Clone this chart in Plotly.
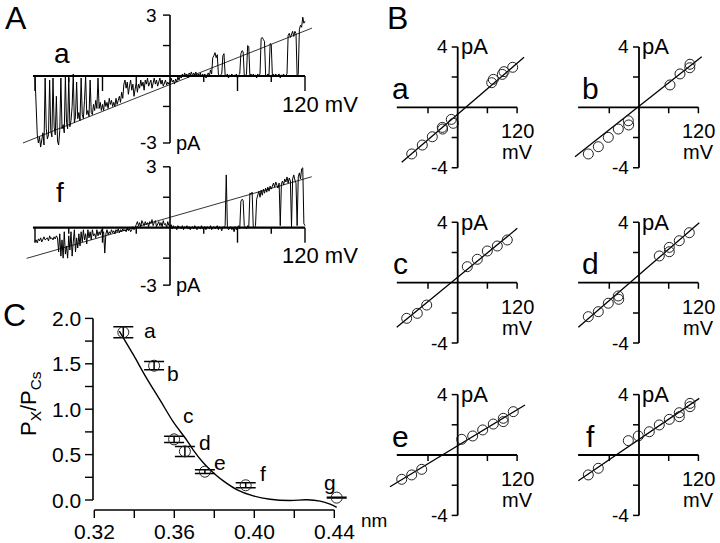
import plotly.graph_objects as go

W, H = 720, 543
FONT = "Liberation Sans, Arial, sans-serif"

# ---------------- data ----------------
ramp_mV = list(range(-120, 121, 1))
trace_a_pA = [
    0.0, -1.5, -2.9, -3.3, -3.0, -3.5, -3.2, -2.8, -3.4, -0.1,
    -2.6, -3.1, -2.9, -0.2, -2.7, -3.0, -0.1, -2.5, -2.9, -1.0,
    -3.2, -3.4, -2.7, -0.1, -2.6, -2.4, -2.8, 0.0, -2.3, -2.6,
    -0.1, -2.5, -2.2, -1.5, 0.1, -2.3, -2.0, -0.3, -2.1, -1.8,
    -2.2, -0.1, -1.9, -2.1, -1.2, 0.0, -1.9, -1.7, -2.0, -0.2,
    -1.8, -1.9, -1.4, -1.7, -1.2, -1.6, -0.1, -1.6, -1.3, -1.7,
    -1.4, -1.7, -1.2, -1.5, -1.3, -1.6, -1.1, -1.4, -1.2, -1.5,
    -1.3, -1.5, -1.1, -1.4, -1.2, -1.0, -1.3, -0.8, -1.1, -0.4,
    -0.2, -0.6, -0.3, -0.9, -0.5, -0.2, -0.7, -0.4, -1.0, -0.5,
    -0.3, -0.8, -0.4, -0.6, -0.2, -0.5, -0.3, -0.7, -0.2, -0.4,
    -0.1, -0.5, -0.3, -0.2, -0.6, -0.3, -0.1, -0.4, -0.2, -0.5,
    -0.3, -0.1, -0.4, -0.2, -0.5, -0.3, -0.2, -0.45, -0.3, -0.4,
    -0.35, -0.1, -0.3, -0.2, -0.4, -0.15, -0.3, -0.05, -0.2, 0.0,
    -0.1, 0.1, -0.05, 0.15, 0.0, 0.1, -0.1, 0.15, 0.05, 0.2,
    0.0, 0.15, 0.05, 0.2, -0.05, 0.1, 0.0, 0.15, -0.05, 0.1,
    0.0, 0.1, -0.1, 0.05, 0.15, 0.0, 0.3, 0.1, 0.9, 1.0,
    1.15, 0.9, 1.05, 0.1, 0.0, 0.05, 0.1, 1.0, 1.1, 0.05,
    0.0, 0.1, -0.1, 0.05, 0.0, 0.1, -0.05, 0.05, 0.0, 0.1,
    -0.1, 0.05, 0.1, 1.1, 1.25, 1.2, 0.05, 0.0, 0.1, 1.5,
    1.45, 0.0, 0.1, -0.05, 0.1, 0.0, 0.05, -0.1, 0.1, 0.0,
    0.1, 1.85, 1.9, 1.8, 1.7, 0.05, 0.0, 0.1, 0.05, 1.6,
    1.55, 0.0, 0.1, -0.05, 0.1, 0.0, 0.05, 0.1, -0.1, 0.05,
    0.0, 0.1, -0.05, 0.05, 0.1, 2.0, 2.1, 1.9, 2.05, 2.2,
    1.95, 2.2, 2.1, 0.0, 0.1, 2.3, 2.5, 2.4, 2.9, 2.6,
    2.7,
]
trace_f_pA = [
    -0.7, -0.6, -0.75, -0.55, -0.65, -0.5, -0.7, -0.6, -0.45, -0.6,
    -0.55, -0.5, -0.65, -0.4, -0.55, -0.5, -0.6, -0.45, -0.55, -0.4,
    -0.5, -1.2, -0.3, -1.4, -0.6, -1.5, -0.2, -1.3, -0.9, -1.5,
    -0.4, -1.1, -0.2, -1.4, -0.7, -0.1, -1.2, -0.5, -1.0, -0.3,
    -0.9, -0.2, -0.7, -0.1, -0.6, -0.3, -0.8, -0.1, -0.5, -0.2,
    -0.6, -0.1, -0.4, -0.3, -0.5, -0.1, -0.4, -0.2, -0.35, -0.1,
    -0.3, -0.2, -1.25, -0.3, -0.1, -0.35, -0.2, -0.3, -0.1, -0.25,
    -0.15, -0.3, -0.1, -0.2, -0.05, -0.25, -0.1, -0.2, -0.05, -0.15,
    -0.1, -0.2, 0.0, -0.15, -0.05, -0.2, -0.1, 0.05, -0.1, 0.0,
    0.15, 0.3, 0.1, 0.25, 0.05, 0.35, 0.2, 0.1, 0.3, 0.15,
    0.25, 0.05, 0.3, 0.2, 0.4, 0.1, 0.25, 0.35, 0.05, 0.2,
    0.3, 0.1, 0.25, 0.05, 0.35, 0.15, 0.2, 0.0, 0.3, 0.1,
    0.05, 0.15, -0.05, 0.1, 0.0, 0.05, -0.1, 0.1, 0.0, 0.05,
    -0.05, 0.1, -0.1, 0.05, 0.0, 0.1, -0.05, 0.05, -0.1, 0.0,
    0.05, -0.05, 0.1, 0.0, -0.1, 0.05, 0.0, -0.05, 0.1, -0.05,
    0.0, 0.05, -0.1, 0.05, 0.0, -0.05, 0.1, -0.1, 0.0, 0.05,
    -0.05, 0.0, 0.1, -0.1, 0.05, 0.0, -0.15, 0.05, 0.0, 0.1,
    2.6, 0.05, -0.1, 0.0, 0.05, -0.1, 0.0, -0.2, 0.05, -0.1,
    0.0, 0.1, -0.05, 1.3, 1.4, 1.35, 0.1, 0.0, -0.05, 0.1,
    0.0, 1.7, 1.65, 1.75, 0.05, 0.0, 0.1, 1.4, 1.6, 1.8,
    1.5, 1.85, 1.6, 1.9, 1.7, 1.95, 1.75, 2.0, 1.8, 2.05,
    1.9, 2.1, 2.2, 2.0, 2.25, 2.1, 1.95, 2.2, 0.1, 2.15,
    2.3, 2.1, 2.4, 2.25, 2.5, 2.2, 2.45, 2.3, 0.05, 2.4,
    2.6, 2.35, 2.2, 0.1, 2.5, 2.7, 2.4, 2.9, 2.95, 0.2,
    0.1,
]
fit_a_mV = [-130.7, 126.2]
fit_a_pA = [-3.3, 2.36]
fit_f_mV = [-127.4, 126.0]
fit_f_pA = [-1.51, 2.51]

iv_names = ["a", "b", "c", "d", "e", "f"]
iv_mV = {
    "a": [-92.9, -71.5, -51.3, -31.1, -30.5, -12.9, -8.9, 68.7, 71.9, 90.1, 93.5, 111.1],
    "b": [-102.4, -82.2, -62.0, -41.8, -21.6, -20.9, 62.6, 82.8, 103.0, 102.6],
    "c": [-103.0, -81.6, -62.6, 19.4, 39.6, 59.8, 80.0, 100.2],
    "d": [-102.4, -82.2, -62.0, -41.8, -41.0, 41.0, 61.2, 61.2, 81.4, 101.6],
    "e": [-113.1, -92.9, -72.7, 8.1, 30.3, 50.5, 71.9, 92.1, 92.1, 112.3],
    "f": [-102.4, -82.2, -21.6, -1.4, 20.8, 41.0, 61.2, 81.4, 81.4, 103.0, 103.0],
}
iv_pA = {
    "a": [-3.09, -2.50, -1.95, -1.33, -1.44, -0.80, -1.06, 1.63, 1.85, 2.18, 2.36, 2.65],
    "b": [-3.09, -2.61, -1.99, -1.44, -0.89, -1.17, 1.48, 2.21, 2.85, 2.62],
    "c": [-2.36, -2.03, -1.48, 1.06, 1.55, 2.10, 2.43, 2.83],
    "d": [-2.25, -1.92, -1.36, -0.88, -1.10, 1.77, 2.34, 2.05, 2.78, 3.31],
    "e": [-1.61, -1.32, -0.95, 1.04, 1.26, 1.66, 2.05, 2.43, 2.21, 2.87],
    "f": [-1.32, -0.88, 0.95, 1.26, 1.54, 1.99, 2.36, 2.80, 2.54, 3.42, 3.20],
}
iv_fit_mV = {
    "a": [-113.1, 134.0], "b": [-129.3, 126.7], "c": [-123.2, 120.4],
    "d": [-122.6, 121.8], "e": [-136.8, 136.0], "f": [-122.6, 121.8],
}
iv_fit_pA = {
    "a": [-3.64, 3.31], "b": [-3.27, 3.35], "c": [-2.95, 3.60],
    "d": [-2.95, 3.97], "e": [-2.10, 3.31], "f": [-1.70, 3.75],
}

C_labels = ["a", "b", "c", "d", "e", "f", "g"]
C_nm = [0.3345, 0.3499, 0.3599, 0.3653, 0.3753, 0.3957, 0.4412]
C_ratio = [1.847, 1.479, 0.668, 0.535, 0.312, 0.162, 0.026]
C_err = [0.06, 0.045, 0.035, 0.055, 0.02, 0.028, 0.005]
C_curve_nm = [0.3325, 0.3395, 0.3462, 0.3529, 0.3595, 0.3662, 0.3695, 0.3745, 0.3795,
              0.3845, 0.3912, 0.3995, 0.4079, 0.4179, 0.4262, 0.4329, 0.4379, 0.4412]
C_curve_ratio = [1.86, 1.60, 1.34, 1.10, 0.86, 0.66, 0.55, 0.41, 0.30,
                 0.21, 0.115, 0.045, 0.008, -0.006, 0.002, -0.012, -0.045, -0.08]

# ---------------- figure ----------------
fig = go.Figure()


def panel(n, x0, sx, y0, sy, box):
    L, T, R, B = box
    s = "" if n == 1 else str(n)
    fig.update_layout({
        f"xaxis{s}": dict(domain=[L / W, R / W], range=[(L - x0) / sx, (R - x0) / sx],
                          visible=False, anchor=f"y{s}", fixedrange=True),
        f"yaxis{s}": dict(domain=[1 - B / H, 1 - T / H], range=[(y0 - B) / sy, (y0 - T) / sy],
                          visible=False, anchor=f"x{s}", fixedrange=True),
    })
    return dict(xr=f"x{s}", yr=f"y{s}", sx=sx, sy=sy)


def seg(p, xa, ya, xb, yb, w=1.5):
    fig.add_shape(type="line", xref=p["xr"], yref=p["yr"], x0=xa, y0=ya, x1=xb, y1=yb,
                  line=dict(color="black", width=w), layer="above")


def label(p, text, x, y, size, xanchor="center", yanchor="middle", xshift=0, yshift=0):
    fig.add_annotation(text=text, xref=p["xr"], yref=p["yr"], x=x, y=y, showarrow=False,
                       xanchor=xanchor, yanchor=yanchor, xshift=xshift, yshift=yshift,
                       font=dict(family=FONT, size=size, color="black"))


def plabel(text, px, py, size, angle=0):
    fig.add_annotation(text=text, xref="paper", yref="paper", x=px / W, y=1 - py / H,
                       showarrow=False, xanchor="center", yanchor="middle", textangle=angle,
                       font=dict(family=FONT, size=size, color="black"))


def line_trace(p, x, y, w=1.0):
    fig.add_trace(go.Scatter(x=x, y=y, mode="lines", xaxis=p["xr"], yaxis=p["yr"],
                             line=dict(color="black", width=w), hoverinfo="skip"))


# ----- panel A -----
pa = panel(1, 170, 1.125, 76, 20.3, (0, 0, 340, 158))
pf = panel(2, 170, 1.125, 227.7, 20.3, (0, 158, 340, 300))
for p, tr, fx, fy, ybot, name, npos in [
    (pa, trace_a_pA, fit_a_mV, fit_a_pA, -3.3, "a", (-96, 1.13)),
    (pf, trace_f_pA, fit_f_mV, fit_f_pA, -2.83, "f", (-98, 1.71)),
]:
    line_trace(p, ramp_mV, tr, 1.0)
    line_trace(p, fx, fy, 0.8)
    seg(p, -121.8, 0, 120, 0, 2.2)
    seg(p, 0, ybot, 0, 3, 1.6)
    for v in [-120, -60, 60, 120]:
        seg(p, v, 0, v, -15 / p["sy"], 1.4)
    for v in [-90, -30, 30, 90]:
        seg(p, v, 0, v, -6 / p["sy"], 1.4)
    for v in [3, 1.5, -1.5, ybot]:
        seg(p, 0, v, -7 / p["sx"], v, 1.4)
    label(p, "3", 0, 3, 19, xanchor="right", xshift=-11)
    label(p, "-3", 0, ybot, 19, xanchor="right", xshift=-11)
    label(p, "pA", 0, ybot, 20, xanchor="left", xshift=4)
    label(p, "120 mV", 120, 0, 22, xshift=15, yshift=-28)
    label(p, name, npos[0], npos[1], 28)

# ----- panel B -----
cols = [457.7, 639]
rows = [107.3, 282.7, 455]
letter_x = [-115, -97]
for i, nm in enumerate(iv_names):
    r, c = divmod(i, 2)
    x0, y0 = cols[c], rows[r]
    L = 380 if c == 0 else 562
    R = 560 if c == 0 else 720
    p = panel(3 + i, x0, 0.495, y0, 15.1, (L, y0 - 75, R, y0 + 75))
    seg(p, -123, 0, 120, 0, 1.8)
    seg(p, 0, -4, 0, 4, 1.8)
    for v in [-60, 60, 120]:
        seg(p, v, 0, v, -6 / 15.1, 1.5)
    for v in [-4, -2, 2, 4]:
        seg(p, 0, v, -6 / 0.495, v, 1.5)
    line_trace(p, iv_fit_mV[nm], iv_fit_pA[nm], 1.3)
    fig.add_trace(go.Scatter(x=iv_mV[nm], y=iv_pA[nm], mode="markers", xaxis=p["xr"], yaxis=p["yr"],
                             marker=dict(symbol="circle-open", size=10, color="#222",
                                         line=dict(width=1)), hoverinfo="skip"))
    label(p, "4", 0, 4, 19, xanchor="right", xshift=-8)
    label(p, "-4", 0, -4, 19, xanchor="right", xshift=-8)
    label(p, "pA", 0, 4, 22, xanchor="left", xshift=1)
    label(p, "120", 120, 0, 20, yshift=-24)
    label(p, "mV", 120, 0, 20, yshift=-45)
    label(p, nm, letter_x[c], 19 / 15.1, 30)

# ----- panel C -----
pc = panel(9, 94.3 - 2000 * 0.32, 2000, 500, 90.8, (50, 300, 372, 540))
xa_y = -0.11
ya_x = 0.31935
seg(pc, ya_x, 0, ya_x, 2.0, 1.6)
seg(pc, 0.32, xa_y, 0.44, xa_y, 1.6)
for k in range(9):
    v = k * 0.25
    seg(pc, ya_x, v, ya_x - 8 / 2000, v, 1.4)
for k in range(7):
    v = 0.32 + 0.02 * k
    seg(pc, v, xa_y, v, xa_y - 8 / 90.8, 1.4)
for v, t in [(0.0, "0.0"), (0.5, "0.5"), (1.0, "1.0"), (1.5, "1.5"), (2.0, "2.0")]:
    label(pc, t, ya_x, v, 21, xanchor="right", xshift=-10)
for v, t in [(0.32, "0.32"), (0.36, "0.36"), (0.40, "0.40"), (0.44, "0.44")]:
    label(pc, t, v, xa_y, 21, yanchor="top", yshift=-8)
label(pc, "nm", 0.44, xa_y, 19, xanchor="left", xshift=25, yshift=-11)
fig.add_trace(go.Scatter(x=C_curve_nm, y=C_curve_ratio, mode="lines", xaxis=pc["xr"], yaxis=pc["yr"],
                         line=dict(color="black", width=1.4, shape="spline", smoothing=1.0),
                         hoverinfo="skip"))
fig.add_trace(go.Scatter(x=C_nm, y=C_ratio, mode="markers", xaxis=pc["xr"], yaxis=pc["yr"],
                         marker=dict(symbol="circle-open", size=11, color="#222", line=dict(width=1)),
                         error_y=dict(type="data", array=C_err, visible=True, color="black",
                                      thickness=1.5, width=10),
                         hoverinfo="skip"))
C_label_px = [(150, 330), (173, 373), (188, 415), (205, 442), (220, 462), (263, 473), (330, 482)]
for t, (px, py) in zip(C_labels, C_label_px):
    plabel(t, px, py, 21)
plabel("P<sub>X</sub>/P<sub>Cs</sub>", 30, 404, 22, angle=-90)

# panel letters
plabel("A", 16, 18, 32)
plabel("B", 397, 18, 32)
plabel("C", 14, 315, 32)

fig.update_layout(width=W, height=H, margin=dict(l=0, r=0, t=0, b=0),
                  paper_bgcolor="white", plot_bgcolor="white", showlegend=False)
fig.write_html("out.html", config={"displayModeBar": False, "staticPlot": True},
               post_script="document.body.style.margin='0';document.body.style.overflow='hidden';")
